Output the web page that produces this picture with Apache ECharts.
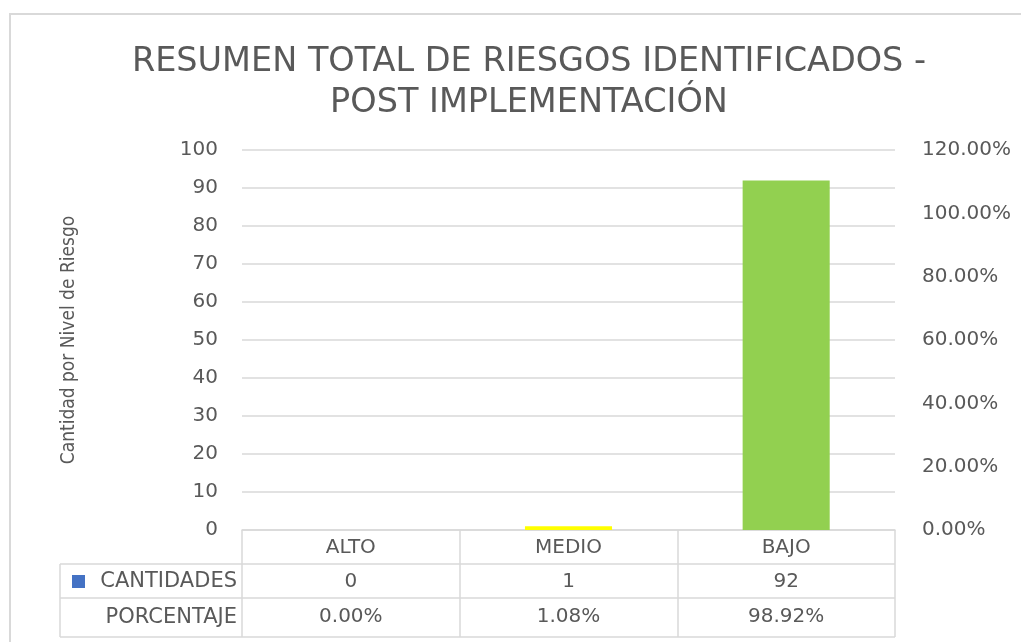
<!DOCTYPE html>
<html>
<head>
<meta charset="utf-8">
<script src="https://cdn.jsdelivr.net/npm/echarts@6/dist/echarts.min.js"></script>
<style>
html,body{margin:0;padding:0;background:#fff;}
#c{width:1021px;height:642px;}
</style>
</head>
<body>
<div id="c"></div>
<script>
var categories = ['ALTO', 'MEDIO', 'BAJO'];
var cantidades = [0, 1, 92];
var porcentaje = [0.00, 1.08, 98.92];
var barColors = ['#FF0000', '#FFFF00', '#92D050'];
var titleLines = ['RESUMEN TOTAL DE RIESGOS IDENTIFICADOS -', 'POST IMPLEMENTACIÓN'];
var yName = 'Cantidad por Nivel de Riesgo';
var rowNames = ['CANTIDADES', 'PORCENTAJE'];

var TXT = '#595959';
var LINE = '#D9D9D9';
var FONT = '"DejaVu Sans",Verdana,sans-serif';
var COND = '"DejaVu Sans Condensed","DejaVu Sans",sans-serif';

var G = {left: 242, right: 895, top: 150, bottom: 530};
var tableLeft = 60, rowY = [564, 598, 637];

var chart = echarts.init(document.getElementById('c'));

var graphics = [
  {type: 'rect', shape: {x: 10, y: 14, width: 1100, height: 700}, style: {fill: 'none', stroke: LINE, lineWidth: 2}, silent: true},
  {type: 'line', shape: {x1: tableLeft, y1: rowY[0], x2: G.right, y2: rowY[0]}, style: {stroke: LINE, lineWidth: 1.5}},
  {type: 'line', shape: {x1: tableLeft, y1: rowY[1], x2: G.right, y2: rowY[1]}, style: {stroke: LINE, lineWidth: 1.5}},
  {type: 'line', shape: {x1: tableLeft, y1: rowY[2], x2: G.right, y2: rowY[2]}, style: {stroke: LINE, lineWidth: 1.5}},
  {type: 'line', shape: {x1: tableLeft, y1: rowY[0], x2: tableLeft, y2: rowY[2]}, style: {stroke: LINE, lineWidth: 1.5}},
  {type: 'rect', shape: {x: 72, y: 575, width: 13, height: 13}, style: {fill: '#4472C4'}},
  {type: 'text', x: 237, y: (rowY[0] + rowY[1]) / 2 + 1, style: {text: rowNames[0], fill: TXT, font: '21px ' + FONT, textAlign: 'right', textVerticalAlign: 'middle'}},
  {type: 'text', x: 237, y: (rowY[1] + rowY[2]) / 2, style: {text: rowNames[1], fill: TXT, font: '21px ' + FONT, textAlign: 'right', textVerticalAlign: 'middle'}}
];

chart.setOption({
  animation: false,
  backgroundColor: '#fff',
  title: {
    text: titleLines.join('\n'),
    left: 524,
    textAlign: 'center',
    top: 37,
    textStyle: {color: TXT, fontFamily: FONT, fontWeight: 'normal', fontSize: 33.5, lineHeight: 41}
  },
  grid: {left: G.left, top: G.top, width: G.right - G.left, height: G.bottom - G.top, containLabel: false},
  xAxis: [
    {
      type: 'category', data: categories, position: 'bottom',
      axisLine: {show: true, lineStyle: {color: LINE, width: 1.5}},
      axisTick: {show: true, length: 107, interval: 0, lineStyle: {color: LINE, width: 1.5}},
      axisLabel: {color: TXT, fontFamily: FONT, fontSize: 20, margin: 8}
    },
    {
      type: 'category', data: categories, position: 'bottom', offset: 34,
      axisLine: {show: false}, axisTick: {show: false},
      axisLabel: {color: TXT, fontFamily: FONT, fontSize: 20, margin: 8,
        formatter: function (v, i) { return String(cantidades[i]); }}
    },
    {
      type: 'category', data: categories, position: 'bottom', offset: 68,
      axisLine: {show: false}, axisTick: {show: false},
      axisLabel: {color: TXT, fontFamily: FONT, fontSize: 20, margin: 9,
        formatter: function (v, i) { return porcentaje[i].toFixed(2) + '%'; }}
    }
  ],
  yAxis: [
    {
      type: 'value', min: 0, max: 100, interval: 10, position: 'left',
      name: yName, nameLocation: 'middle', nameRotate: 90, nameGap: 163,
      nameTextStyle: {color: TXT, fontFamily: COND, fontSize: 19},
      axisLine: {show: false}, axisTick: {show: false},
      splitLine: {show: true, lineStyle: {color: LINE, width: 1.5}},
      axisLabel: {color: TXT, fontFamily: FONT, fontSize: 20, margin: 24}
    },
    {
      type: 'value', min: 0, max: 1.2, interval: 0.2, position: 'right',
      axisLine: {show: false}, axisTick: {show: false}, splitLine: {show: false},
      axisLabel: {color: TXT, fontFamily: FONT, fontSize: 20, margin: 27, align: 'left',
        formatter: function (v) { return (v * 100).toFixed(2) + '%'; }}
    }
  ],
  series: [
    {
      name: rowNames[0], type: 'bar', xAxisIndex: 0, yAxisIndex: 0, barWidth: '40%',
      data: cantidades.map(function (v, i) { return {value: v, itemStyle: {color: barColors[i]}}; })
    },
    {
      name: rowNames[1], type: 'line', xAxisIndex: 0, yAxisIndex: 1, showSymbol: false,
      lineStyle: {opacity: 0}, silent: true,
      data: porcentaje.map(function (v) { return v / 100; })
    }
  ],
  graphic: graphics
});
</script>
</body>
</html>
